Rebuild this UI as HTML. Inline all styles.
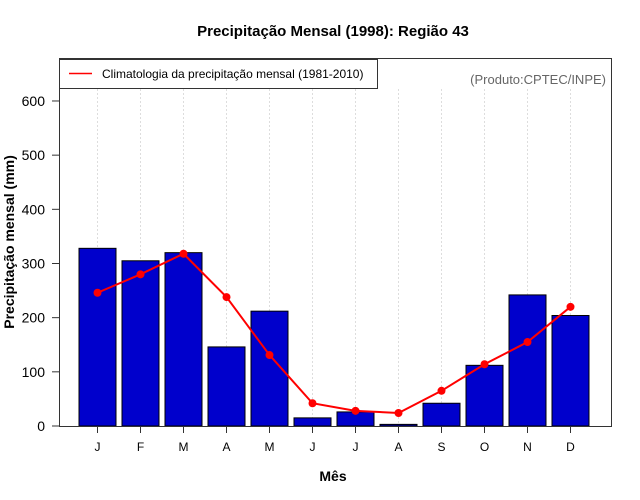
<!DOCTYPE html>
<html><head><meta charset="utf-8"><style>
body{margin:0;background:#fff;}
svg{display:block;font-family:"Liberation Sans",sans-serif;}
</style></head><body>
<svg id="c" width="640" height="500">
<text x="333" y="36" font-size="15" font-weight="bold" text-anchor="middle">Precipitação Mensal (1998): Região 43</text>
<text x="333" y="481" font-size="14" font-weight="bold" text-anchor="middle">Mês</text>
<text transform="translate(14,242) rotate(-90)" font-size="14" font-weight="bold" text-anchor="middle">Precipitação mensal (mm)</text>
<g id="grid"></g><g id="bars"></g><g id="line"></g><g id="axes"></g>
<rect x="59.5" y="58.5" width="552" height="368" fill="none" stroke="#333"/>
<g>
<rect x="59.5" y="59.5" width="318" height="29" fill="#fff" stroke="#333"/>
<line x1="69" y1="73.5" x2="92" y2="73.5" stroke="#f00" stroke-width="1.5"/>
<text x="102" y="78" font-size="12">Climatologia da precipitação mensal (1981-2010)</text>
</g>
<text x="606" y="84" font-size="13" fill="#666" text-anchor="end">(Produto:CPTEC/INPE)</text>
</svg>
<script>
const months=["J","F","M","A","M","J","J","A","S","O","N","D"];
const observed=[328,305,320,146,212,15,26,3,42,112,242,204];
const climatology=[246,280,318,238,131,42,28,24,65,114,155,220];
const yTicks=[0,100,200,300,400,500,600];
const NS="http://www.w3.org/2000/svg";
const x=i=>97.5+i*43;
const y=v=>426-v*0.5417;
function mk(tag,attrs,parent,text){const e=document.createElementNS(NS,tag);for(const k in attrs)e.setAttribute(k,attrs[k]);if(text!==undefined)e.textContent=text;document.getElementById(parent).appendChild(e);return e;}
months.forEach((m,i)=>{
 const g=mk("line",{x1:x(i),x2:x(i),y1:89,y2:426,stroke:"#ddd","stroke-dasharray":"2,2"},"grid");
 
 
 const b=mk("rect",{x:x(i)-18.5,y:y(observed[i]),width:37,height:426-y(observed[i]),fill:"#0000cc",stroke:"#000","stroke-width":1},"bars");
 
 
 const t=mk("line",{x1:x(i),x2:x(i),y1:426,y2:433,stroke:"#333"},"axes");
 
 
 const l=mk("text",{x:x(i),y:451,"font-size":12,"text-anchor":"middle"},"axes",m);
 
 
});
const pl=mk("polyline",{points:climatology.map((v,i)=>x(i)+","+y(v)).join(" "),fill:"none",stroke:"#f00","stroke-width":2},"line");


climatology.forEach((v,i)=>{
 const c=mk("circle",{cx:x(i),cy:y(v),r:4,fill:"#f00"},"line");
 
 
});
yTicks.forEach(v=>{
 const t=mk("line",{x1:52,x2:59,y1:y(v),y2:y(v),stroke:"#333"},"axes");
 
 
 const l=mk("text",{x:45,y:y(v)+5,"font-size":14,"text-anchor":"end"},"axes",v);
 
 
});
</script>
</body></html>
